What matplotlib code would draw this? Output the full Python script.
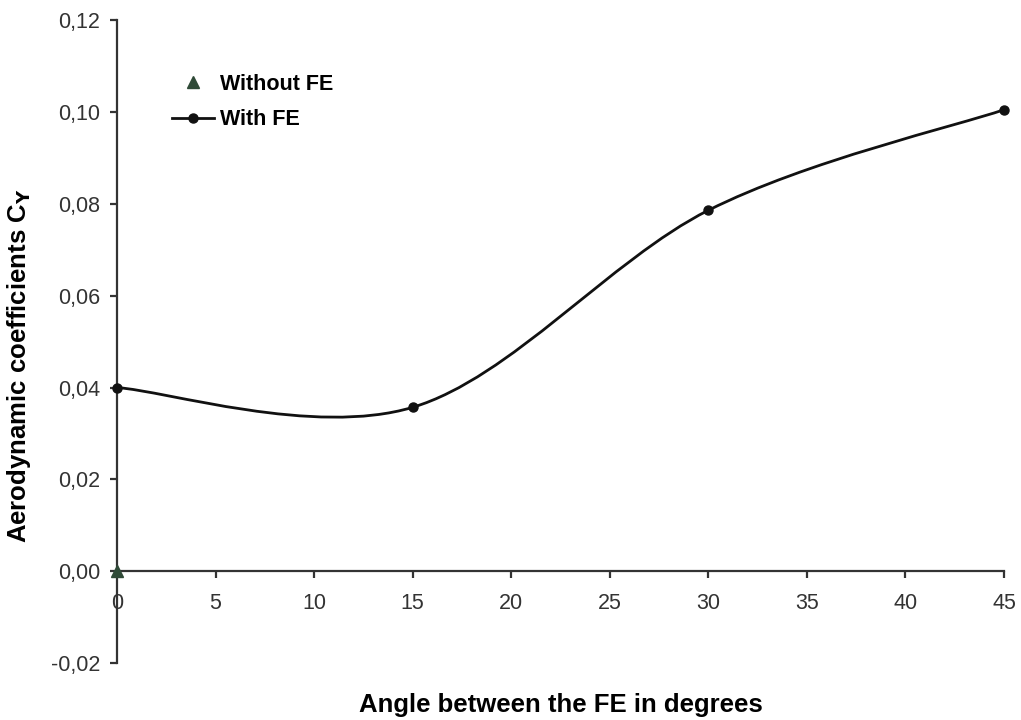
import matplotlib.pyplot as plt
from matplotlib.path import Path
from matplotlib.patches import PathPatch
from matplotlib.lines import Line2D
from matplotlib.ticker import FuncFormatter

plt.rcParams['font.family'] = ['Liberation Sans', 'DejaVu Sans']

# data
angles = [0, 15, 30, 45]
cy_with_fe = [0.040, 0.0357, 0.0786, 0.1005]
angle_without_fe = [0]
cy_without_fe = [0.0]

x_ticks = [0, 5, 10, 15, 20, 25, 30, 35, 40, 45]
y_ticks = [-0.02, 0.0, 0.02, 0.04, 0.06, 0.08, 0.10, 0.12]

fig = plt.figure(figsize=(10.21, 7.2), dpi=100)
ax = fig.add_axes([0.1146, 0.079, 0.8688, 0.893])

# smoothed line like a spreadsheet chart (cardinal bezier through the points)
pts = list(zip(angles, cy_with_fe))
verts = [pts[0]]
codes = [Path.MOVETO]
for i in range(len(pts) - 1):
    p0 = pts[max(i - 1, 0)]
    p1 = pts[i]
    p2 = pts[i + 1]
    p3 = pts[min(i + 2, len(pts) - 1)]
    c1 = (p1[0] + (p2[0] - p0[0]) / 6, p1[1] + (p2[1] - p0[1]) / 6)
    c2 = (p2[0] - (p3[0] - p1[0]) / 6, p2[1] - (p3[1] - p1[1]) / 6)
    verts += [c1, c2, p2]
    codes += [Path.CURVE4] * 3
ax.add_patch(PathPatch(Path(verts, codes), facecolor='none', edgecolor='#111111',
                       lw=2, clip_on=False, zorder=3))
ax.plot(angles, cy_with_fe, 'o', color='#111111', ms=6.5, clip_on=False, zorder=4)
ax.plot(angle_without_fe, cy_without_fe, '^', color='#2f4a37', ms=9, clip_on=False, zorder=5)

ax.set_xlim(0, 45)
ax.set_ylim(-0.02, 0.12)
ax.set_xticks(x_ticks)
ax.set_yticks(y_ticks)
ax.yaxis.set_major_formatter(FuncFormatter(lambda v, p: f"{v:.2f}".replace('.', ',').replace('-0,00', '0,00')))

for s in ['top', 'right']:
    ax.spines[s].set_visible(False)
ax.spines['bottom'].set_position(('data', 0))
ax.spines['bottom'].set_color('#333333')
ax.spines['left'].set_color('#333333')
ax.spines['bottom'].set_linewidth(1.6)
ax.spines['left'].set_linewidth(1.6)

ax.tick_params(axis='x', direction='out', length=5, width=1.6, pad=11,
               labelsize=15.5, labelcolor='#333333', color='#333333')
ax.tick_params(axis='y', direction='out', length=5, width=1.6, pad=7,
               labelsize=15.5, labelcolor='#333333', color='#333333')

ax.set_xlabel("Angle between the FE in degrees", fontsize=18.5, fontweight='bold')
ax.set_ylabel("Aerodynamic coefficients C$_\\mathbf{Y}$", fontsize=18.5, fontweight='bold')
ax.xaxis.set_label_coords(0.5, -0.047)
ax.yaxis.set_label_coords(-0.095, 0.463)

handles = [
    Line2D([], [], marker='^', color='#2f4a37', ls='none', ms=8),
    Line2D([], [], marker='o', color='#111111', lw=2, ms=6.5),
]
ax.legend(handles, ["Without FE", "With FE"], loc='upper left', bbox_to_anchor=(0.062, 0.917),
          frameon=False, borderpad=0, borderaxespad=0, handlelength=1.95, handletextpad=0.3,
          labelspacing=0.68, prop={'weight': 'bold', 'size': 15.5})

fig.savefig("out.png", dpi=100)
